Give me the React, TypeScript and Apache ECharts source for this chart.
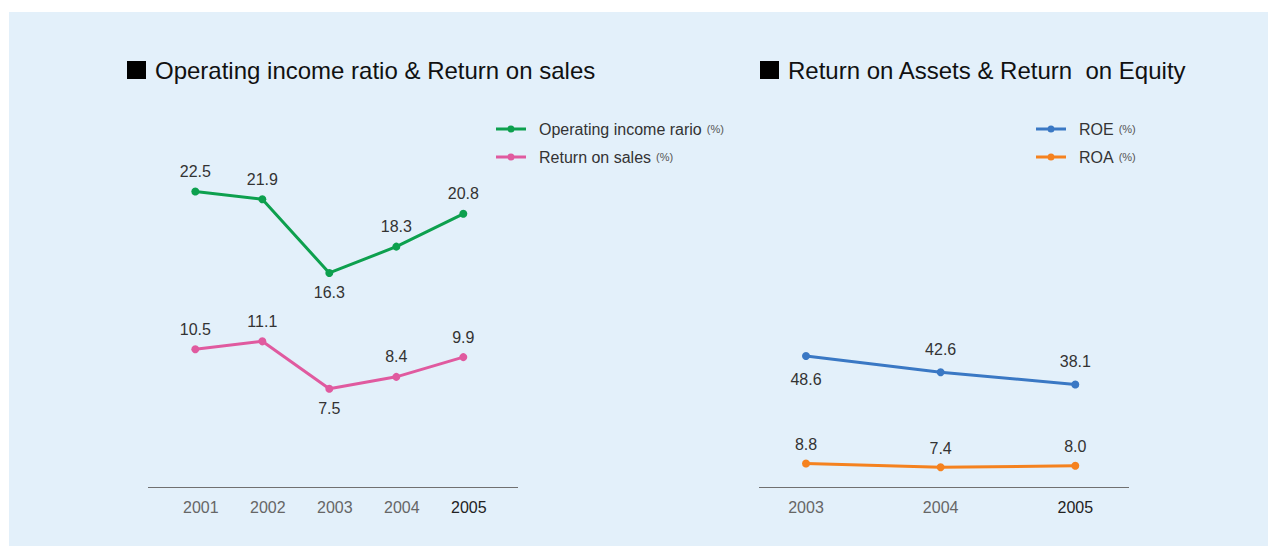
import React, { useEffect, useRef } from "react";
import * as echarts from "echarts";

const leftYears = ["2001", "2002", "2003", "2004", "2005"];
const operatingIncome = [22.5, 21.9, 16.3, 18.3, 20.8];
const returnOnSales = [10.5, 11.1, 7.5, 8.4, 9.9];
const opLabelPos = ["top", "top", "bottom", "top", "top"];
const rosLabelPos = ["top", "top", "bottom", "top", "top"];

const rightYears = ["2003", "2004", "2005"];
const roe = [48.6, 42.6, 38.1];
const roa = [8.8, 7.4, 8.0];
const roeLabelPos = ["bottom", "top", "top"];
const roaLabelPos = ["top", "top", "top"];

const FONT = "'Liberation Sans', Arial, Helvetica, sans-serif";

const LEGEND_ICON =
  "path://M0,2 L12,2 L12,5 L0,5 Z M18,2 L30,2 L30,5 L18,5 Z M11.5,3.5 A3.5,3.5 0 1 1 18.5,3.5 A3.5,3.5 0 1 1 11.5,3.5 Z";

function withPos(values: number[], pos: string[]) {
  return values.map((v, i) => ({ value: v, label: { position: pos[i] } }));
}

export default function App() {
  const ref = useRef<HTMLDivElement>(null);
  useEffect(() => {
    document.body.style.margin = "0";
    if (!ref.current) return;
    const chart = echarts.init(ref.current, null, { renderer: "svg" });

    const legendRich = {
      n: { fontSize: 16, color: "#333", fontFamily: FONT, lineHeight: 16 },
      p: { fontSize: 11, color: "#555", fontFamily: FONT, padding: [0, 0, 0, 5] },
    };
    const titleRich = (txt: string) => ({
      text: "{sq|}{t|" + txt + "}",
      padding: 0,
      textStyle: {
        fontWeight: "normal",
        rich: {
          sq: { backgroundColor: "#000", width: 19, height: 18 },
          t: {
            fontSize: 24,
            fontWeight: "normal",
            color: "#111",
            fontFamily: FONT,
            padding: [0, 0, 0, 9],
          },
        },
      },
    });

    const yearLabel = (pad: number) => ({
      fontSize: 16,
      fontFamily: FONT,
      margin: 12,
      interval: 0,
      padding: [0, 0, 0, pad],
      formatter: (v: string) => (v === "2005" ? "{b|" + v + "}" : "{a|" + v + "}"),
      rich: {
        a: { color: "#666", fontSize: 16, fontFamily: FONT },
        b: { color: "#222", fontSize: 16, fontFamily: FONT },
      },
    });

    const dataLabel = (dist: number) => ({
      show: true,
      fontSize: 16,
      color: "#333",
      fontFamily: FONT,
      distance: dist,
      formatter: (p: any) => Number(p.value).toFixed(1),
    });

    const mkSeries = (
      name: string,
      data: any[],
      color: string,
      idx: number,
      dist: number
    ) => ({
      name,
      type: "line",
      xAxisIndex: idx,
      yAxisIndex: idx,
      data,
      symbol: "circle",
      symbolSize: 8,
      lineStyle: { width: 3, color },
      itemStyle: { color },
      label: dataLabel(dist),
    });

    const legendBase = {
      top: 121,
      orient: "vertical",
      padding: 0,
      icon: LEGEND_ICON,
      itemWidth: 30,
      itemHeight: 7,
      itemGap: 12,
      formatter: (n: string) => "{n|" + n + "}{p|(%)}",
      textStyle: { rich: legendRich, padding: [0, 0, 0, 8] },
    };

    chart.setOption({
      animation: false,
      backgroundColor: "#ffffff",
      textStyle: { fontFamily: FONT },
      title: [
        { ...titleRich("Operating income ratio & Return on sales"), left: 127, top: 58 },
        { ...titleRich("Return on Assets & Return  on Equity"), left: 760, top: 58 },
      ],
      legend: [
        { ...legendBase, left: 496, data: ["Operating income rario", "Return on sales"] },
        { ...legendBase, left: 1036, data: ["ROE", "ROA"] },
      ],
      grid: [
        { left: 195.3, width: 268, top: 92.8, height: 394.5 },
        { left: 806, width: 269.3, top: 82.3, height: 405 },
      ],
      xAxis: [
        {
          type: "category",
          gridIndex: 0,
          data: leftYears,
          boundaryGap: false,
          axisLine: { show: false },
          axisTick: { show: false },
          splitLine: { show: false },
          axisLabel: yearLabel(11),
        },
        {
          type: "category",
          gridIndex: 1,
          data: rightYears,
          boundaryGap: false,
          axisLine: { show: false },
          axisTick: { show: false },
          splitLine: { show: false },
          axisLabel: yearLabel(0),
        },
      ],
      yAxis: [
        { type: "value", gridIndex: 0, min: 0, max: 30, show: false },
        { type: "value", gridIndex: 1, min: 0, max: 150, show: false },
      ],
      graphic: [
        {
          type: "rect",
          z: -10,
          silent: true,
          shape: { x: 9, y: 12, width: 1259, height: 534 },
          style: { fill: "#e3f0fa" },
        },
        {
          type: "line",
          silent: true,
          shape: { x1: 148, y1: 487.5, x2: 518, y2: 487.5 },
          style: { stroke: "#707070", lineWidth: 1.2 },
        },
        {
          type: "line",
          silent: true,
          shape: { x1: 759, y1: 487.5, x2: 1129, y2: 487.5 },
          style: { stroke: "#707070", lineWidth: 1.2 },
        },
      ],
      series: [
        mkSeries("Operating income rario", withPos(operatingIncome, opLabelPos), "#0da04e", 0, 8),
        mkSeries("Return on sales", withPos(returnOnSales, rosLabelPos), "#e05a9f", 0, 8),
        mkSeries("ROE", withPos(roe, roeLabelPos), "#3a78c4", 1, 11),
        mkSeries("ROA", withPos(roa, roaLabelPos), "#f5821f", 1, 7),
      ],
    });
    return () => chart.dispose();
  }, []);
  return <div ref={ref} style={{ width: 1277, height: 546 }} />;
}
